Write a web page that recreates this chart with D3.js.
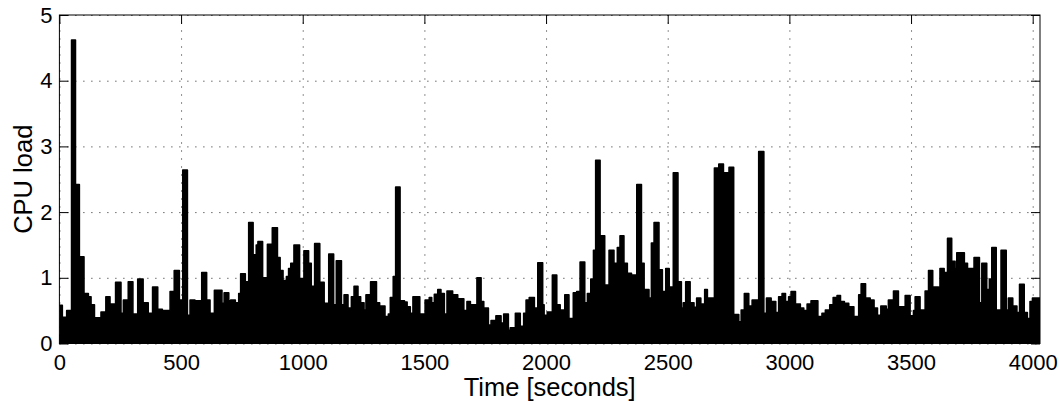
<!DOCTYPE html>
<html>
<head>
<meta charset="utf-8">
<script src="https://cdn.jsdelivr.net/npm/d3@7"></script>
<style>
    body { margin: 0; background: #fff; }
    text { font-family: "Liberation Sans", Arial, Helvetica, sans-serif; fill: #000; }
</style>
</head>
<body>
<div id="container"></div>
<script>
// step samples: load holds from each start time until the next one
const timeStart = [
    0, 12, 30, 50, 66, 82, 101, 119, 130, 144, 171, 191, 208, 231, 253, 263, 283, 302, 322, 344,
    365, 383, 404, 423, 455, 472, 493, 507, 526, 537, 557, 585, 605, 619, 637, 668, 677, 696, 704, 723,
    737, 745, 764, 778, 796, 809, 816, 835, 855, 875, 896, 907, 919, 933, 942, 951, 964, 987, 1005, 1024,
    1035, 1049, 1070, 1088, 1107, 1127, 1138, 1159, 1170, 1186, 1200, 1211, 1227, 1238, 1252, 1260, 1279, 1303, 1316, 1338,
    1352, 1360, 1372, 1382, 1400, 1418, 1429, 1442, 1453, 1481, 1503, 1520, 1530, 1541, 1555, 1568, 1582, 1593, 1616, 1637,
    1662, 1675, 1689, 1716, 1733, 1744, 1763, 1774, 1794, 1815, 1826, 1845, 1853, 1874, 1894, 1908, 1918, 1931, 1952, 1966,
    1986, 1992, 2005, 2026, 2044, 2058, 2077, 2094, 2112, 2126, 2140, 2159, 2170, 2184, 2195, 2204, 2222, 2241, 2259, 2279,
    2293, 2304, 2320, 2334, 2351, 2373, 2392, 2403, 2423, 2433, 2444, 2464, 2478, 2492, 2506, 2523, 2542, 2556, 2564, 2574,
    2592, 2608, 2619, 2636, 2652, 2663, 2692, 2710, 2729, 2752, 2771, 2792, 2802, 2815, 2833, 2847, 2874, 2895, 2906, 2925,
    2944, 2956, 2970, 2984, 2997, 3007, 3025, 3045, 3059, 3073, 3089, 3117, 3134, 3148, 3166, 3180, 3196, 3210, 3226, 3244,
    3265, 3285, 3295, 3313, 3332, 3348, 3362, 3376, 3398, 3407, 3428, 3448, 3476, 3496, 3510, 3517, 3537, 3558, 3572, 3589,
    3613, 3619, 3636, 3650, 3667, 3681, 3688, 3719, 3732, 3759, 3781, 3791, 3811, 3822, 3832, 3850, 3870, 3891, 3900, 3918,
    3935, 3946, 3965, 3978, 3989, 3999
];
const cpuLoad = [
    0.58, 0.40, 0.50, 4.62, 2.42, 1.32, 0.76, 0.71, 0.59, 0.39, 0.48, 0.71, 0.60, 0.93, 0.46, 0.66, 0.94, 0.45, 0.98, 0.62,
    0.46, 0.86, 0.52, 0.50, 0.79, 1.11, 0.66, 2.64, 0.43, 0.66, 0.65, 1.08, 0.66, 0.46, 0.81, 0.61, 0.77, 0.65, 0.66, 0.62,
    0.76, 1.06, 0.94, 1.84, 1.35, 1.50, 1.55, 1.00, 1.51, 1.76, 1.31, 1.11, 0.96, 1.02, 1.14, 1.22, 1.50, 0.99, 1.41, 1.22,
    0.87, 1.52, 0.93, 0.61, 1.36, 0.59, 1.26, 0.59, 0.74, 0.54, 0.71, 0.87, 0.71, 0.62, 0.51, 0.74, 0.94, 0.62, 0.57, 0.41,
    0.45, 0.70, 1.02, 2.38, 0.65, 0.63, 0.56, 0.46, 0.71, 0.45, 0.66, 0.70, 0.62, 0.75, 0.82, 0.76, 0.45, 0.80, 0.74, 0.68,
    0.50, 0.64, 0.59, 1.00, 0.64, 0.54, 0.28, 0.35, 0.42, 0.31, 0.45, 0.20, 0.24, 0.46, 0.26, 0.46, 0.66, 0.70, 0.54, 1.23,
    0.59, 0.43, 0.48, 1.04, 0.59, 0.51, 0.74, 0.38, 0.77, 0.79, 1.24, 0.62, 0.76, 0.98, 1.42, 2.79, 1.64, 0.89, 1.42, 1.22,
    1.46, 1.64, 1.22, 1.07, 1.04, 2.42, 1.22, 0.82, 0.69, 1.53, 1.84, 1.12, 0.79, 1.14, 0.86, 2.60, 0.94, 0.54, 0.62, 0.94,
    0.62, 0.55, 0.69, 0.60, 0.82, 0.69, 2.67, 2.73, 2.60, 2.68, 0.44, 0.33, 0.51, 0.76, 0.57, 0.66, 2.92, 0.46, 0.69, 0.64,
    0.47, 0.71, 0.76, 0.64, 0.71, 0.79, 0.60, 0.54, 0.50, 0.60, 0.65, 0.41, 0.46, 0.51, 0.59, 0.70, 0.73, 0.64, 0.61, 0.56,
    0.41, 0.74, 0.91, 0.69, 0.66, 0.54, 0.43, 0.57, 0.52, 0.66, 0.80, 0.56, 0.73, 0.42, 0.50, 0.71, 0.51, 0.80, 1.11, 0.86,
    0.64, 1.14, 1.08, 1.60, 1.25, 1.14, 1.38, 1.22, 1.14, 1.31, 0.62, 1.22, 0.82, 0.98, 1.46, 0.51, 1.42, 0.51, 0.69, 0.57,
    0.47, 0.90, 0.47, 0.38, 0.64, 0.69
];
const timeEnd = 4030;
const xTicks = [0, 500, 1000, 1500, 2000, 2500, 3000, 3500, 4000];
const yTicks = [0, 1, 2, 3, 4, 5];

const width = 1059;
const height = 402;
const margin = { top: 15, right: 19, bottom: 58.5, left: 59.4 };
const plotW = width - margin.left - margin.right;
const plotH = height - margin.top - margin.bottom;

const svg = d3.select("#container")
    .append("svg")
    .attr("width", width)
    .attr("height", height);

const g = svg.append("g")
    .attr("transform", `translate(${margin.left},${margin.top})`);

const x = d3.scaleLinear().domain([0, timeEnd]).range([0, plotW]);
const y = d3.scaleLinear().domain([0, 5]).range([plotH, 0]);

svg.append("defs").append("clipPath")
    .attr("id", "plotClip")
    .append("rect")
    .attr("width", plotW)
    .attr("height", plotH);

// dotted grid
g.append("g")
    .attr("class", "grid")
    .call(d3.axisBottom(x).tickValues(xTicks).tickSize(-plotH).tickFormat(""))
    .attr("transform", `translate(0,${plotH})`);
g.append("g")
    .attr("class", "grid")
    .call(d3.axisLeft(y).tickValues(yTicks).tickSize(-plotW).tickFormat(""));
g.selectAll(".grid .domain").remove();
g.selectAll(".grid line")
    .attr("stroke", "#222")
    .attr("stroke-width", 1)
    .attr("stroke-dasharray", "1,7");

const points = timeStart.map((t, i) => ({ t, v: cpuLoad[i] }));
points.push({ t: timeEnd, v: cpuLoad[cpuLoad.length - 1] });

const area = d3.area()
    .x(d => x(d.t))
    .y0(y(0))
    .y1(d => y(d.v))
    .curve(d3.curveStepAfter);

const line = d3.line()
    .x(d => x(d.t))
    .y(d => y(d.v))
    .curve(d3.curveStepAfter);

const plot = g.append("g").attr("clip-path", "url(#plotClip)");
plot.append("path")
    .datum(points)
    .attr("d", area)
    .attr("fill", "#000");
plot.append("path")
    .datum(points)
    .attr("d", line)
    .attr("fill", "none")
    .attr("stroke", "#000")
    .attr("stroke-width", 1.6)
    .attr("stroke-linejoin", "round")
    .attr("stroke-linecap", "round");

// inward ticks on all four sides
const tickLen = 9;
const fmt = d3.format("d");
const axisB = g.append("g")
    .attr("transform", `translate(0,${plotH})`)
    .call(d3.axisBottom(x).tickValues(xTicks).tickFormat(fmt).tickSizeInner(-tickLen).tickSizeOuter(0).tickPadding(11));
const axisL = g.append("g")
    .call(d3.axisLeft(y).tickValues(yTicks).tickFormat(fmt).tickSizeInner(-tickLen).tickSizeOuter(0).tickPadding(7));
g.append("g")
    .call(d3.axisTop(x).tickValues(xTicks).tickSizeInner(-tickLen).tickSizeOuter(0).tickFormat(""));
g.append("g")
    .attr("transform", `translate(${plotW},0)`)
    .call(d3.axisRight(y).tickValues(yTicks).tickSizeInner(-tickLen).tickSizeOuter(0).tickFormat(""));

g.selectAll(".domain").remove();
g.selectAll(".tick line").filter(function () { return !this.closest(".grid"); })
    .attr("stroke", "#000");
axisB.selectAll("text").attr("font-size", 22);
axisL.selectAll("text").attr("font-size", 22);

g.append("rect")
    .attr("width", plotW)
    .attr("height", plotH)
    .attr("fill", "none")
    .attr("stroke", "#000")
    .attr("stroke-width", 1);

svg.append("text")
    .attr("x", margin.left + plotW / 2)
    .attr("y", 396)
    .attr("text-anchor", "middle")
    .attr("font-size", 25.5)
    .text("Time [seconds]");

svg.append("text")
    .attr("transform", `translate(32,${margin.top + plotH / 2}) rotate(-90)`)
    .attr("text-anchor", "middle")
    .attr("font-size", 25.5)
    .text("CPU load");
</script>
</body>
</html>
